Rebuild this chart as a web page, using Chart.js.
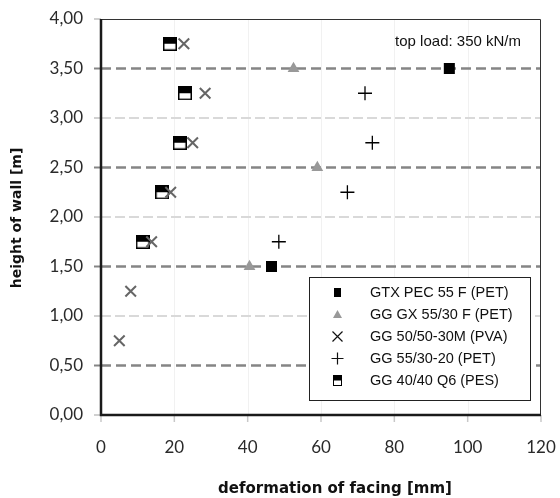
<!DOCTYPE html>
<html>
<head>
<meta charset="utf-8">
<script src="https://cdn.jsdelivr.net/npm/chart.js@4.4.1/dist/chart.umd.min.js"></script>
<style>
  html, body { margin: 0; padding: 0; background: #fff; }
  #wrap { width: 560px; height: 498px; position: relative; }
</style>
</head>
<body>
<div id="wrap"><canvas id="c" width="560" height="498"></canvas></div>
<script>
// ---- data ----
const seriesNames = ['GTX PEC 55 F (PET)', 'GG GX 55/30 F (PET)', 'GG 50/50-30M (PVA)', 'GG 55/30-20 (PET)', 'GG 40/40 Q6 (PES)'];
const gtxX = [95, 46.5];
const gtxY = [3.5, 1.5];
const gxX = [52.5, 59, 40.5];
const gxY = [3.5, 2.5, 1.5];
const pvaX = [22.6, 28.4, 25, 19, 13.8, 8.1, 5.0];
const pvaY = [3.75, 3.25, 2.75, 2.25, 1.75, 1.25, 0.75];
const petX = [72, 74, 67.2, 48.5];
const petY = [3.25, 2.75, 2.25, 1.75];
const pesX = [18.8, 22.9, 21.5, 16.7, 11.4];
const pesY = [3.75, 3.25, 2.75, 2.25, 1.75];
const xTicks = [0, 20, 40, 60, 80, 100, 120];
const yTicks = [0, 0.5, 1, 1.5, 2, 2.5, 3, 3.5, 4];
const annotationText = 'top load: 350 kN/m';
const xTitle = 'deformation of facing [mm]';
const yTitle = 'height of wall [m]';

function pts(xs, ys) { return xs.map((x, i) => ({ x: x, y: ys[i] })); }

// half-filled square marker
function halfSquare(w, h) {
  const c = document.createElement('canvas');
  c.width = w; c.height = h;
  const g = c.getContext('2d');
  g.fillStyle = '#fff';
  g.fillRect(0, 0, w, h);
  g.fillStyle = '#000';
  g.fillRect(0, 0, w, Math.round(h / 2));
  g.strokeStyle = '#000';
  g.lineWidth = 1.5;
  g.strokeRect(0.75, 0.75, w - 1.5, h - 1.5);
  return c;
}
const pesMarker = halfSquare(14, 14);

const titleFont = '"DejaVu Sans", Verdana, sans-serif';

const gridPlugin = {
  id: 'gridPlugin',
  beforeDatasetsDraw(chart) {
    const { ctx, chartArea: a, scales: { x, y } } = chart;
    ctx.save();
    // faint vertical lines
    ctx.strokeStyle = '#f1f1f1';
    ctx.lineWidth = 1;
    xTicks.forEach(v => {
      if (v === 0 || v === 120) return;
      const px = Math.round(x.getPixelForValue(v)) + 0.5;
      ctx.beginPath(); ctx.moveTo(px, a.top); ctx.lineTo(px, a.bottom); ctx.stroke();
    });
    // x tick marks
    ctx.strokeStyle = '#c8c8c8';
    ctx.lineWidth = 1.5;
    xTicks.forEach(v => {
      const px = x.getPixelForValue(v);
      ctx.beginPath(); ctx.moveTo(px, a.bottom); ctx.lineTo(px, a.bottom + 7); ctx.stroke();
    });
    // horizontal lines + y tick marks
    yTicks.forEach(v => {
      const py = y.getPixelForValue(v);
      const major = (v % 1) === 0.5;
      ctx.setLineDash([]);
      ctx.strokeStyle = major ? '#858585' : '#d0d0d0';
      ctx.lineWidth = 2;
      ctx.beginPath(); ctx.moveTo(a.left - 7, py); ctx.lineTo(a.left, py); ctx.stroke();
      if (v === 0 || v === 4) return;
      ctx.strokeStyle = major ? '#858585' : '#d9d9d9';
      ctx.lineWidth = major ? 2.5 : 2;
      ctx.setLineDash(major ? [10, 5] : [10, 4]);
      ctx.beginPath(); ctx.moveTo(a.left, py); ctx.lineTo(a.right, py); ctx.stroke();
    });
    ctx.setLineDash([]);
    // frame
    ctx.strokeStyle = '#333';
    ctx.lineWidth = 1;
    ctx.beginPath();
    ctx.moveTo(a.left, a.top + 0.5); ctx.lineTo(a.right - 0.5, a.top + 0.5); ctx.lineTo(a.right - 0.5, a.bottom);
    ctx.stroke();
    ctx.strokeStyle = '#1a1a1a';
    ctx.lineWidth = 2.5;
    ctx.beginPath();
    ctx.moveTo(a.left, a.top); ctx.lineTo(a.left, a.bottom); ctx.lineTo(a.right, a.bottom);
    ctx.stroke();
    ctx.restore();
  },
  afterDraw(chart) {
    const { ctx, chartArea: a } = chart;
    ctx.save();
    // axis titles
    ctx.fillStyle = '#111';
    ctx.font = 'bold 15px ' + titleFont;
    ctx.textAlign = 'center';
    ctx.textBaseline = 'middle';
    ctx.fillText(xTitle, 335, 489);
    ctx.save();
    ctx.translate(17, 218);
    ctx.rotate(-Math.PI / 2);
    ctx.font = 'bold 14px ' + titleFont;
    ctx.fillText(yTitle, 0, 0);
    ctx.restore();
    // annotation
    ctx.fillStyle = '#111';
    ctx.font = '15px "Liberation Sans", Arial, sans-serif';
    ctx.textAlign = 'right';
    ctx.textBaseline = 'middle';
    ctx.fillText(annotationText, 521, 42);
    // legend box
    const lx = 309.5, ly = 277.5, lw = 221, lh = 123;
    ctx.fillStyle = '#fff';
    ctx.fillRect(lx, ly, lw, lh);
    ctx.strokeStyle = '#222';
    ctx.lineWidth = 1;
    ctx.strokeRect(lx, ly, lw, lh);
    ctx.textAlign = 'left';
    ctx.font = '14.5px "Liberation Sans", Arial, sans-serif';
    const sx = 337.5;
    seriesNames.forEach((name, i) => {
      const cy = 292.5 + i * 22;
      ctx.fillStyle = '#111';
      ctx.fillText(name, 370, cy);
      if (i === 0) {
        ctx.fillStyle = '#000';
        ctx.fillRect(sx - 3.5, cy - 4.5, 7, 9);
      } else if (i === 1) {
        ctx.fillStyle = '#999';
        ctx.beginPath();
        ctx.moveTo(sx, cy - 4.5); ctx.lineTo(sx + 4.5, cy + 3.5); ctx.lineTo(sx - 4.5, cy + 3.5);
        ctx.closePath(); ctx.fill();
      } else if (i === 2) {
        ctx.strokeStyle = '#111'; ctx.lineWidth = 1.2;
        ctx.beginPath();
        ctx.moveTo(sx - 5, cy - 5); ctx.lineTo(sx + 5, cy + 5);
        ctx.moveTo(sx + 5, cy - 5); ctx.lineTo(sx - 5, cy + 5);
        ctx.stroke();
      } else if (i === 3) {
        ctx.strokeStyle = '#111'; ctx.lineWidth = 1.2;
        ctx.beginPath();
        ctx.moveTo(sx - 6, cy); ctx.lineTo(sx + 6, cy);
        ctx.moveTo(sx, cy - 6); ctx.lineTo(sx, cy + 6);
        ctx.stroke();
      } else {
        ctx.fillStyle = '#fff';
        ctx.fillRect(sx - 4, cy - 5, 8, 10);
        ctx.fillStyle = '#000';
        ctx.fillRect(sx - 4, cy - 5, 8, 5);
        ctx.strokeStyle = '#000'; ctx.lineWidth = 1;
        ctx.strokeRect(sx - 4, cy - 5, 8, 10);
      }
    });
    ctx.restore();
  }
};

const tickFont = { family: 'Lato, "Open Sans", sans-serif', size: 17 };

new Chart(document.getElementById('c'), {
  type: 'scatter',
  data: {
    datasets: [
      { label: seriesNames[0], data: pts(gtxX, gtxY), pointStyle: 'rect', radius: 7.8, backgroundColor: '#000', borderColor: '#000', borderWidth: 0 },
      { label: seriesNames[1], data: pts(gxX, gxY), pointStyle: 'triangle', radius: 6.8, backgroundColor: '#999', borderColor: '#999', borderWidth: 0 },
      { label: seriesNames[2], data: pts(pvaX, pvaY), pointStyle: 'crossRot', radius: 7.5, borderColor: '#666', backgroundColor: '#666', borderWidth: 2 },
      { label: seriesNames[3], data: pts(petX, petY), pointStyle: 'cross', radius: 7, borderColor: '#000', backgroundColor: '#000', borderWidth: 1.3 },
      { label: seriesNames[4], data: pts(pesX, pesY), pointStyle: pesMarker, radius: 7 }
    ]
  },
  options: {
    responsive: false,
    animation: false,
    events: [],
    layout: { padding: { left: 0, right: 19, top: 19, bottom: 0 } },
    plugins: { legend: { display: false }, tooltip: { enabled: false } },
    scales: {
      x: {
        type: 'linear', min: 0, max: 120,
        afterBuildTicks: s => { s.ticks = xTicks.map(v => ({ value: v })); },
        afterFit: s => { s.height = 83; },
        grid: { display: true, drawOnChartArea: false, drawTicks: true, tickLength: 20, tickColor: 'rgba(0,0,0,0)' },
        border: { display: false },
        ticks: { padding: 2, color: '#2a2a2a', font: tickFont, maxRotation: 0 },
        title: { display: false }
      },
      y: {
        type: 'linear', min: 0, max: 4,
        afterBuildTicks: s => { s.ticks = yTicks.map(v => ({ value: v })); },
        afterFit: s => { s.width = 101; },
        grid: { display: true, drawOnChartArea: false, drawTicks: true, tickLength: 15, tickColor: 'rgba(0,0,0,0)' },
        border: { display: false },
        ticks: { padding: 3, color: '#2a2a2a', font: tickFont, callback: v => v.toFixed(2).replace('.', ',') },
        title: { display: false }
      }
    }
  },
  plugins: [gridPlugin]
});
</script>
</body>
</html>
